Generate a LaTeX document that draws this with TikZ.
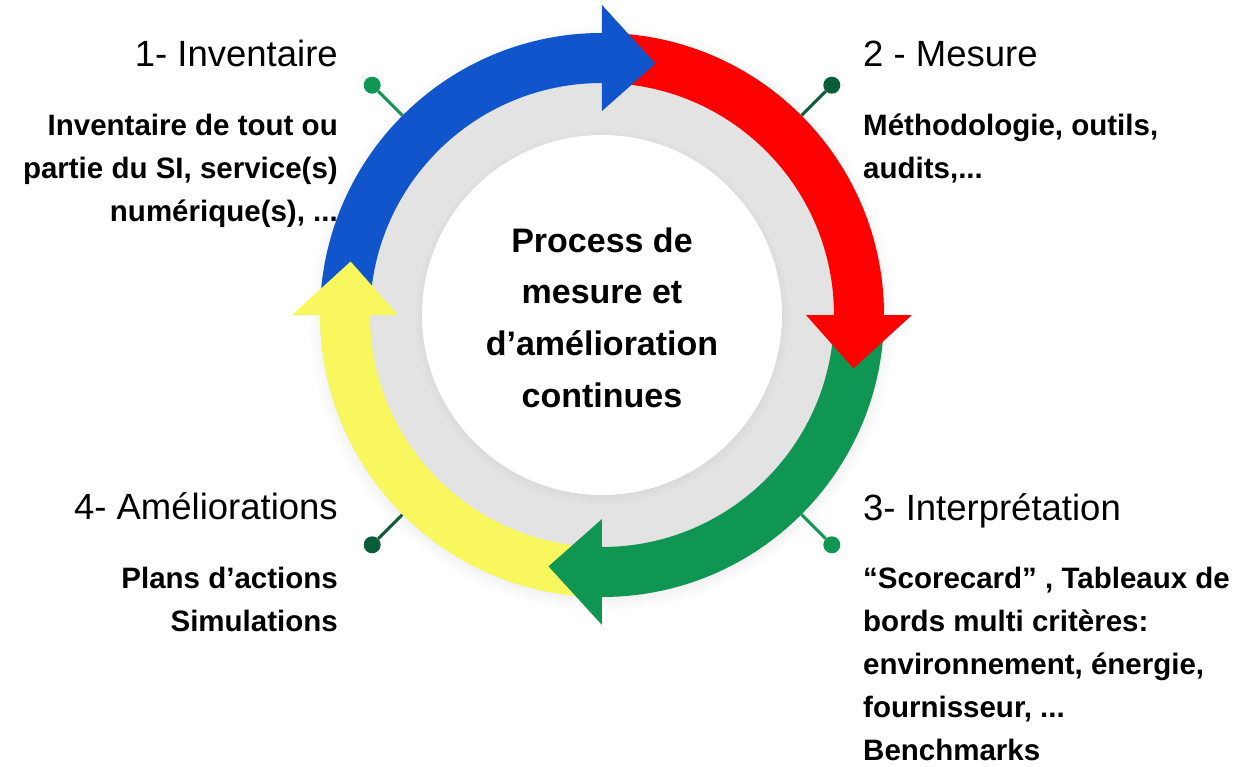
\documentclass[tikz,border=0pt]{standalone}
\usepackage{fontspec}
\setmainfont{Liberation Sans}
\usepackage{tikz}
\usetikzlibrary{shadows}
\usepackage{xcolor}
\definecolor{cyblue}{RGB}{17,85,204}
\definecolor{cyred}{RGB}{255,0,0}
\definecolor{cygreen}{RGB}{16,150,83}
\definecolor{cydarkgreen}{RGB}{11,93,55}
\definecolor{cyyellow}{RGB}{248,248,94}
\definecolor{cygray}{RGB}{227,227,227}
\tikzstyle{steptitle} = [inner sep=0pt, font=\fontsize{36.5}{44}\selectfont]
\tikzstyle{stepdesc} = [inner sep=0pt, font=\fontsize{29.5}{43}\selectfont\bfseries]
\tikzstyle{pindot} = [circle, inner sep=0pt, minimum size=17pt]
\tikzstyle{pinline} = [line width=3pt]
\tikzstyle{disc} = [circle, inner sep=0pt, outer sep=0pt]

\begin{document}
\begin{tikzpicture}[x=1pt, y=1pt]
\useasboundingbox (-602,-451) rectangle (632,315);

% Pins
\coordinate (e1) at (135:282);
\coordinate (e2) at (45:282);
\coordinate (e3) at (-45:282);
\coordinate (e4) at (-135:282);
\node (p1) [pindot, fill=cygreen] at (135:325) {};
\node (p2) [pindot, fill=cydarkgreen] at (45:325) {};
\node (p3) [pindot, fill=cygreen] at (-45:325) {};
\node (p4) [pindot, fill=cydarkgreen] at (-135:325) {};
\draw[pinline, cygreen] (p1) -- (e1);
\draw[pinline, cydarkgreen] (p2) -- (e2);
\draw[pinline, cygreen] (p3) -- (e3);
\draw[pinline, cydarkgreen] (p4) -- (e4);

% Ring
\node (ring) [disc, fill=cygray, minimum size=564pt,
  circular drop shadow={shadow scale=1.04, shadow xshift=0pt, shadow yshift=-3pt, opacity=0.3}] at (0,0) {};
\fill[cyblue] (180:282) arc[start angle=180, end angle=90, radius=282] -- (90:232) arc[start angle=90, end angle=180, radius=232] -- cycle;
\fill[cyred] (90:282) arc[start angle=90, end angle=0, radius=282] -- (0:232) arc[start angle=0, end angle=90, radius=232] -- cycle;
\fill[cygreen] (0:282) arc[start angle=0, end angle=-90, radius=282] -- (-90:232) arc[start angle=-90, end angle=0, radius=232] -- cycle;
\fill[cyyellow] (-90:282) arc[start angle=-90, end angle=-180, radius=282] -- (-180:232) arc[start angle=-180, end angle=-90, radius=232] -- cycle;

% Arrow heads
\fill[cyblue] (90:204) -- (90:310) -- (78:257) -- cycle;
\fill[cyred] (0:204) -- (0:310) -- (-12:257) -- cycle;
\fill[cygreen] (-90:204) -- (-90:310) -- (-102:257) -- cycle;
\fill[cyyellow] (180:204) -- (180:310) -- (168:257) -- cycle;

% Hub
\node (hub) [disc, fill=white, minimum size=360pt,
  circular drop shadow={shadow scale=1.04, shadow xshift=0pt, shadow yshift=-2pt, opacity=0.25}] at (0,0) {};
\node (title) [inner sep=0pt, anchor=base, font=\fontsize{34}{51.7}\selectfont\bfseries] at (0,63) {
\begin{tabular}[t]{@{}c@{}}
Process de\\
mesure et\\
d’amélioration\\
continues
\end{tabular}
};

% Steps
\node (t1) [steptitle, anchor=base east] at (-264,248) {1- Inventaire};
\node (d1) [stepdesc, anchor=base east] at (-264,179) {
\begin{tabular}[t]{@{}r@{}}
Inventaire de tout ou\\
partie du SI, service(s)\\
numérique(s), ...
\end{tabular}
};

\node (t2) [steptitle, anchor=base west] at (261,248) {2 - Mesure};
\node (d2) [stepdesc, anchor=base west] at (261,179) {
\begin{tabular}[t]{@{}l@{}}
Méthodologie, outils,\\
audits,...
\end{tabular}
};

\node (t3) [steptitle, anchor=base west] at (261,-205) {3- Interprétation};
\node (d3) [stepdesc, anchor=base west] at (261,-273) {
\begin{tabular}[t]{@{}l@{}}
“Scorecard” , Tableaux de\\
bords multi critères:\\
environnement, énergie,\\
fournisseur, ...\\
Benchmarks
\end{tabular}
};

\node (t4) [steptitle, anchor=base east] at (-264,-204) {4- Améliorations};
\node (d4) [stepdesc, anchor=base east] at (-264,-273) {
\begin{tabular}[t]{@{}r@{}}
Plans d’actions\\
Simulations
\end{tabular}
};
\end{tikzpicture}
\end{document}
